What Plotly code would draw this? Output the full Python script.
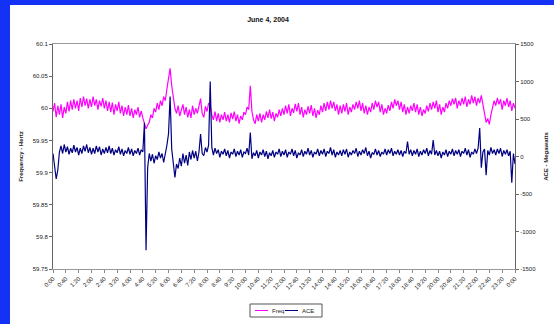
import plotly.graph_objects as go

# time in minutes (5-minute samples over the day)
minutes = [i * 5 for i in range(289)]

freq = [
    59.995, 60.008, 59.986, 60.004, 59.990, 60.006, 59.985, 60.002, 59.992, 60.010, 59.995, 60.012,
    59.998, 60.014, 60.000, 60.012, 59.996, 60.016, 60.002, 60.018, 60.004, 60.015, 60.000, 60.014,
    60.002, 60.018, 60.004, 60.014, 59.998, 60.012, 60.003, 60.016, 60.000, 60.012, 59.996, 60.010,
    59.994, 60.009, 59.990, 60.006, 59.996, 60.010, 59.992, 60.004, 59.988, 60.002, 59.990, 60.005,
    59.988, 60.000, 59.985, 59.998, 59.990, 60.002, 59.986, 59.996, 59.985, 59.975, 59.968, 59.974,
    59.978, 59.990, 59.985, 60.000, 59.994, 60.008, 59.998, 60.012, 60.004, 60.018, 60.012, 60.030,
    60.045, 60.062, 60.035, 60.015, 60.000, 59.992, 60.004, 59.988, 59.998, 60.006, 59.990, 60.002,
    59.986, 59.998, 59.985, 60.004, 59.990, 60.000, 59.992, 60.004, 60.015, 59.992, 59.986, 60.003,
    59.995, 60.008, 60.005, 59.990, 59.982, 59.995, 59.980, 59.992, 59.978, 59.990, 59.982, 59.994,
    59.980, 59.990, 59.978, 59.993, 59.983, 59.995, 59.980, 59.990, 59.976, 59.988, 59.982, 59.994,
    59.990, 60.002, 59.998, 60.035, 59.995, 59.982, 59.976, 59.990, 59.980, 59.992, 59.978, 59.990,
    59.982, 59.995, 59.985, 59.998, 59.984, 59.994, 59.980, 59.992, 59.986, 59.998, 59.988, 60.000,
    59.990, 60.004, 59.992, 60.006, 59.988, 60.000, 59.993, 60.007, 59.995, 60.008, 59.990, 60.002,
    59.986, 59.998, 59.990, 60.003, 59.992, 60.005, 59.988, 60.000, 59.985, 59.997, 59.990, 60.004,
    59.994, 60.008, 59.996, 60.010, 59.998, 60.012, 60.000, 60.010, 59.996, 60.006, 59.990, 60.004,
    59.992, 60.006, 59.995, 60.008, 59.990, 60.002, 59.994, 60.006, 59.998, 60.010, 60.000, 60.012,
    59.996, 60.008, 59.992, 60.004, 59.990, 60.002, 59.994, 60.008, 59.998, 60.012, 60.002, 60.010,
    59.994, 60.006, 59.990, 60.000, 59.992, 60.005, 59.996, 60.010, 60.000, 60.014, 60.004, 60.012,
    59.998, 60.010, 59.994, 60.006, 59.990, 60.002, 59.992, 60.004, 59.996, 60.008, 59.994, 60.006,
    59.990, 60.002, 59.988, 59.998, 59.992, 60.004, 59.995, 60.008, 59.998, 60.010, 60.000, 60.012,
    59.994, 60.006, 59.990, 60.002, 59.994, 60.008, 60.000, 60.012, 60.004, 60.015, 60.006, 60.016,
    60.000, 60.012, 60.004, 60.016, 60.006, 60.018, 60.002, 60.014, 60.006, 60.020, 60.008, 60.018,
    60.004, 60.016, 60.008, 60.020, 60.006, 59.990, 59.978, 59.984, 59.975, 59.990, 60.000, 60.012,
    60.004, 60.016, 60.006, 60.014, 59.998, 60.012, 60.004, 60.016, 60.002, 60.012, 59.996, 60.008,
    60.000,
]

ace = [
    40, -120, -300, -180, 60, 140, 40, 160, 60, 130, 30, 110,
    50, 150, 60, 120, 20, 110, 40, 140, 70, 160, 50, 120,
    30, 110, 40, 140, 60, 130, 20, 100, 40, 120, 50, 140,
    40, 110, 20, 90, 50, 130, 30, 100, 10, 80, 40, 120,
    30, 100, 10, 80, 40, 110, 20, 90, 60, 450, -1250, -150,
    40, -60, 30, -90, 10, -40, 60, -20, 40, -80, 20, 150,
    300, 800, 100, -80, -280, -100, -160, -20, -130, 40, -90, 20,
    -120, 60, -40, 80, -20, 70, -60, 60, 300, 40, 10, 120,
    60, 150, 1000, 120, 20, 110, 40, 90, -10, 70, 30, 100,
    10, 80, -20, 60, 30, 100, 0, 70, 20, 90, -10, 60,
    40, 110, 20, 320, -30, 50, 10, 80, -20, 60, 20, 90,
    0, 70, -30, 50, 10, 80, -10, 60, 30, 100, 0, 70,
    20, 90, -10, 60, 30, 100, 10, 80, -20, 50, 20, 90,
    0, 70, 30, 110, 20, 80, -10, 60, 30, 100, 10, 80,
    30, 100, 0, 70, 40, 120, 20, 90, -10, 60, 20, 80,
    10, 90, 30, 100, -10, 60, 20, 80, 40, 110, 0, 70,
    20, 90, 40, 120, 10, 70, -20, 50, 30, 100, 20, 80,
    0, 60, 30, 100, 20, 90, 40, 110, 10, 70, 30, 90,
    20, 80, 0, 70, 40, 200, 30, 90, 10, 80, 30, 100,
    0, 70, 20, 90, 40, 110, 10, 80, 30, 220, 20, 80,
    10, 70, -20, 60, 20, 90, 0, 70, 30, 100, 10, 80,
    30, 90, 0, 70, 40, 110, 20, 90, -10, 60, 30, 100,
    40, 110, 380, -150, 60, 100, -250, 80, 20, 120, 40, 90,
    20, 100, 40, 110, 0, 80, 30, 90, 10, 70, -350, 40,
    -100,
]

x_tick_vals = [i * 40 for i in range(37)]
x_tick_text = [
    "0:00", "0:40", "1:20", "2:00", "2:40", "3:20", "4:00", "4:40", "5:20", "6:00",
    "6:40", "7:20", "8:00", "8:40", "9:20", "10:00", "10:40", "11:20", "12:00", "12:40",
    "13:20", "14:00", "14:40", "15:20", "16:00", "16:40", "17:20", "18:00", "18:40", "19:20",
    "20:00", "20:40", "21:20", "22:00", "22:40", "23:20", "0:00",
]
freq_ticks = [60.1, 60.05, 60.0, 59.95, 59.9, 59.85, 59.8, 59.75]
freq_tick_text = ["60.1", "60.05", "60", "59.95", "59.9", "59.85", "59.8", "59.75"]
ace_ticks = [1500, 1000, 500, 0, -500, -1000, -1500]
ace_tick_text = ["1500", "1000", "500", "0", "-500", "-1000", "-1500"]

series_names = ["Freq", "ACE"]
series_colors = ["#ff00ff", "#000080"]

FONT = "Liberation Sans, Arial, sans-serif"

fig = go.Figure()
fig.add_trace(go.Scatter(x=minutes, y=freq, name=series_names[0], mode="lines",
                         line=dict(color=series_colors[0], width=1.2)))
fig.add_trace(go.Scatter(x=minutes, y=ace, name=series_names[1], mode="lines", yaxis="y2",
                         line=dict(color=series_colors[1], width=1.2)))

W, H = 554, 324
L, R, T, B = 53, 515, 44, 269
pw, ph = R - L, B - T


def px(xp):
    return (xp - L) / pw


def py(yp):
    return (B - yp) / ph


# legend drawn as a small boxed key below the plot
leg_y = 310.5
shapes = [
    dict(type="rect", xref="paper", yref="paper", x0=px(0), x1=px(10), y0=py(H), y1=py(0),
         fillcolor="#1432f5", line=dict(width=0), layer="above"),
    dict(type="rect", xref="paper", yref="paper", x0=px(0), x1=px(W), y0=py(5), y1=py(0),
         fillcolor="#1432f5", line=dict(width=0), layer="above"),
    dict(type="rect", xref="paper", yref="paper", x0=px(250), x1=px(322), y0=py(317), y1=py(304),
         fillcolor="white", line=dict(color="#555", width=1)),
    dict(type="line", xref="paper", yref="paper", x0=px(255), x1=px(268), y0=py(leg_y), y1=py(leg_y),
         line=dict(color=series_colors[0], width=1)),
    dict(type="line", xref="paper", yref="paper", x0=px(285), x1=px(298), y0=py(leg_y), y1=py(leg_y),
         line=dict(color=series_colors[1], width=1)),
]
annotations = [
    dict(text=series_names[0], xref="paper", yref="paper", x=px(269.5), y=py(leg_y),
         xanchor="left", yanchor="middle", showarrow=False, font=dict(size=6)),
    dict(text=series_names[1], xref="paper", yref="paper", x=px(299.5), y=py(leg_y),
         xanchor="left", yanchor="middle", showarrow=False, font=dict(size=6)),
]

fig.update_layout(
    width=W, height=H,
    margin=dict(l=L, r=W - R, t=T, b=H - B, pad=0),
    paper_bgcolor="white", plot_bgcolor="white",
    font=dict(family=FONT, size=6, color="#222"),
    title=dict(text="<b>June 4, 2004</b>", x=px(268), xref="paper", xanchor="center",
               y=1 - 20 / H, yanchor="middle", font=dict(size=7, color="#111")),
    showlegend=False,
    xaxis=dict(range=[0, 1440], tickvals=x_tick_vals, ticktext=x_tick_text,
               tickangle=-45, ticks="outside", ticklen=3, tickcolor="#888",
               showline=True, linecolor="#999", linewidth=1, mirror=True,
               showgrid=False, zeroline=False, tickfont=dict(size=6), automargin=False),
    yaxis=dict(range=[59.75, 60.1], tickvals=freq_ticks, ticktext=freq_tick_text,
               ticks="outside", ticklen=3, tickcolor="#666",
               showline=True, linecolor="#666", linewidth=1,
               showgrid=False, zeroline=False, automargin=False,
               title=dict(text="<b>Frequency - Hertz</b>", font=dict(size=6), standoff=8)),
    yaxis2=dict(range=[-1500, 1500], tickvals=ace_ticks, ticktext=ace_tick_text,
                overlaying="y", side="right", ticks="outside", ticklen=3, tickcolor="#666",
                showline=True, linecolor="#666", linewidth=1,
                showgrid=False, zeroline=False, automargin=False,
                title=dict(text="<b>ACE - Megawatts</b>", font=dict(size=6), standoff=8)),
    shapes=shapes,
    annotations=annotations,
)

fig.write_html(
    "out.html",
    config={"displayModeBar": False, "staticPlot": True},
    post_script="document.body.style.margin='0';document.body.style.overflow='hidden';",
)
